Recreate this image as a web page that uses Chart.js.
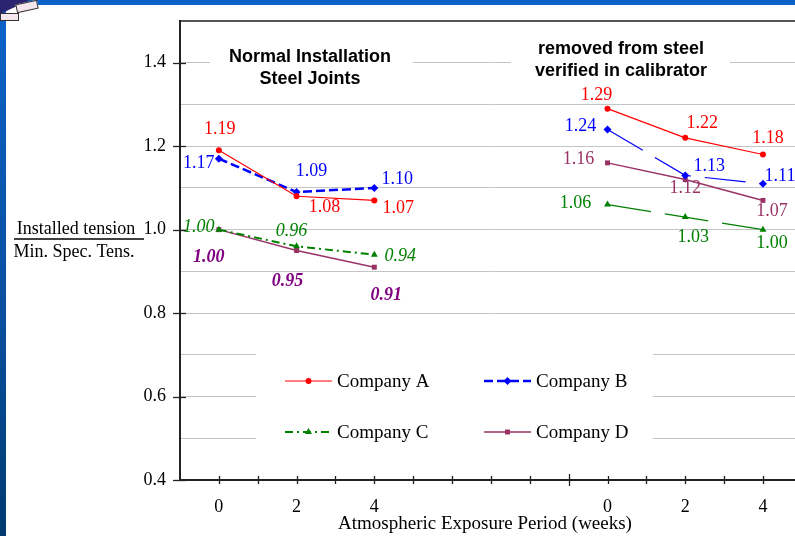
<!DOCTYPE html>
<html>
<head>
<meta charset="utf-8">
<script src="https://cdn.jsdelivr.net/npm/chart.js@4.4.1/dist/chart.umd.min.js"></script>
<style>
  body { margin: 0; background: #fff; }
  #wrap { position: relative; width: 795px; height: 536px; overflow: hidden; }
  canvas { position: absolute; left: 0; top: 0; }
  .bar-left { position: absolute; left: 0; top: 0; width: 6px; height: 536px;
    background: linear-gradient(#0b63c9, #0a4f9e 60%, #003a70); }
  .bar-top { position: absolute; left: 0; top: 0; width: 795px; height: 5px; background: #0b63c9; }
  .logo { position: absolute; left: 0; top: 0; width: 30px; height: 14px; background: #2b2470;
    clip-path: polygon(0 0, 100% 0, 0 100%); }
  .logo2 { position: absolute; left: 16px; top: 2px; width: 20px; height: 7px; background: #f4e8ee;
    border: 1px solid #333; transform: rotate(-12deg); }
  .logo3 { position: absolute; left: 0; top: 13px; width: 17px; height: 6px; background: #f4e8ee;
    border: 1px solid #333; }
</style>
</head>
<body>
<div id="wrap">
  <canvas id="lineChart" width="800" height="536"></canvas>
  <div class="bar-top"></div>
  <div class="bar-left"></div>
  <div class="logo"></div>
  <div class="logo2"></div>
  <div class="logo3"></div>
</div>
<script>
// weeks on the axis: the two test groups sit side by side
const weekLabels = ["0", "2", "4"];
const xNormal = [0, 2, 4];
const xCalibrator = [10, 12, 14];

// installed tension / min. spec. tension
const companyA = [1.19, 1.08, 1.07, 1.29, 1.22, 1.18];
const companyB = [1.17, 1.09, 1.10, 1.24, 1.13, 1.11];
const companyC = [1.00, 0.96, 0.94, 1.06, 1.03, 1.00];
const companyD = [1.00, 0.95, 0.91, 1.16, 1.12, 1.07];

// where each value label sits relative to its point (px)
const shiftA = [[1, -21], [28, 11], [24, 8], [-11, -13], [17, -15], [5, -16]];
const shiftB = [[-20, 5], [15, -21], [23, -9], [-27, -3], [24, -9], [17, -7]];
const shiftC = [[-20, -2], [-5, -15], [26, 2], [-32, -1], [8, 20], [9, 14]];
const shiftD = [[-10, 28], [-9, 31], [12, 28], [-29, -4], [0, 9], [9, 11]];

const SERIF = "'Liberation Serif', 'Times New Roman', serif";
const SANS = "'Liberation Sans', Arial, sans-serif";

function toPoints(values) {
  const pts = [];
  xNormal.forEach((x, i) => pts.push({ x: x, y: values[i] }));
  pts.push({ x: 7, y: null });
  xCalibrator.forEach((x, i) => pts.push({ x: x, y: values[i + 3] }));
  return pts;
}

function tickText(v) {
  let i = xNormal.indexOf(v);
  if (i >= 0) return weekLabels[i];
  i = xCalibrator.indexOf(v);
  if (i >= 0) return weekLabels[i];
  return "";
}

const series = [
  { label: "Company A", values: companyA, color: "#ff0000", style: "circle", radius: 3,
    width: [1.2, 1.2], dash: [[], []], shift: shiftA,
    labelFont: ["", ""], labelColor: ["#ff0000", "#ff0000"] },
  { label: "Company B", values: companyB, color: "#0000ff", style: "rectRot", radius: 4,
    width: [2.5, 1.2], dash: [[9, 4], [41, 14]], shift: shiftB,
    labelFont: ["", ""], labelColor: ["#0000ff", "#0000ff"] },
  { label: "Company C", values: companyC, color: "#008000", style: "triangle", radius: 4,
    width: [2, 1.2], dash: [[8, 4, 2, 4], [44, 14]], shift: shiftC,
    labelFont: ["italic ", ""], labelColor: ["#008000", "#008000"] },
  { label: "Company D", values: companyD, color: "#993366", style: "rect", radius: 3.5,
    width: [1.5, 1.5], dash: [[], []], shift: shiftD,
    labelFont: ["italic bold ", ""], labelColor: ["#800080", "#993366"] }
];

const datasets = series.map(s => ({
  label: s.label,
  data: toPoints(s.values),
  borderColor: s.color,
  backgroundColor: s.color,
  borderWidth: s.width[0],
  pointStyle: s.style,
  pointRadius: s.radius,
  pointBorderWidth: 0,
  pointBackgroundColor: s.color,
  spanGaps: false,
  segment: {
    borderDash: ctx => ctx.p0.parsed.x > 6 ? s.dash[1] : s.dash[0],
    borderWidth: ctx => ctx.p0.parsed.x > 6 ? s.width[1] : s.width[0]
  }
}));

const decorPlugin = {
  id: "decor",
  beforeDatasetsDraw(chart) {
    const ctx = chart.ctx;
    ctx.save();
    // white panels behind the titles and the legend
    ctx.fillStyle = "#fff";
    ctx.fillRect(210, 38, 203, 56);
    ctx.fillRect(511, 30, 219, 55);
    ctx.fillRect(256, 340, 397, 112);

    ctx.fillStyle = "#000";
    ctx.textAlign = "center";
    ctx.textBaseline = "middle";
    ctx.font = "bold 18px " + SANS;
    ctx.fillText("Normal Installation", 310, 57);
    ctx.fillText("Steel Joints", 310, 79);
    ctx.fillText("removed from steel", 621, 49);
    ctx.fillText("verified in calibrator", 621, 71);

    // legend, 2 x 2
    const cells = [[285, 381], [484, 381], [285, 432], [484, 432]];
    series.forEach((s, i) => {
      const [lx, ly] = cells[i];
      ctx.strokeStyle = s.color;
      ctx.fillStyle = s.color;
      ctx.lineWidth = s.width[0];
      ctx.setLineDash(s.dash[0]);
      ctx.beginPath();
      ctx.moveTo(lx, ly);
      ctx.lineTo(lx + 47, ly);
      ctx.stroke();
      ctx.setLineDash([]);
      Chart.helpers.drawPoint(ctx, { pointStyle: s.style, radius: s.radius, rotation: 0, borderWidth: 0 }, lx + 23.5, ly);
      ctx.fillStyle = "#000";
      ctx.textAlign = "left";
      ctx.font = "19px " + SERIF;
      ctx.fillText(s.label, lx + 52, ly + 1);
    });
    ctx.restore();
  },
  afterDatasetsDraw(chart) {
    const ctx = chart.ctx;
    const xs = chart.scales.x, ys = chart.scales.y;
    ctx.save();
    ctx.textAlign = "center";
    ctx.textBaseline = "middle";
    // value labels
    series.forEach((s, di) => {
      const meta = chart.getDatasetMeta(di);
      meta.data.forEach((pt, j) => {
        const raw = chart.data.datasets[di].data[j];
        if (raw.y === null) return;
        const k = j < 3 ? j : j - 1;
        const g = j < 3 ? 0 : 1;
        ctx.font = s.labelFont[g] + "18px " + SERIF;
        ctx.fillStyle = s.labelColor[g];
        ctx.fillText(raw.y.toFixed(2), pt.x + s.shift[k][0], pt.y + s.shift[k][1]);
      });
    });

    // tick marks crossing the axes
    ctx.strokeStyle = "#222";
    ctx.lineWidth = 1.3;
    ys.ticks.forEach(t => {
      if (Math.round(t.value * 10) % 2 !== 0 || t.value > 1.45) return;
      const y = Math.round(ys.getPixelForValue(t.value)) + 0.5;
      ctx.beginPath();
      ctx.moveTo(xs.left - 7, y);
      ctx.lineTo(xs.left + 6, y);
      ctx.stroke();
    });
    xs.ticks.forEach(t => {
      if (t.value < 0) return;
      const x = Math.round(xs.getPixelForValue(t.value)) + 0.5;
      const len = t.value === 9 ? 6 : 4;
      ctx.beginPath();
      ctx.moveTo(x, ys.bottom - len);
      ctx.lineTo(x, ys.bottom + len);
      ctx.stroke();
    });

    // y axis title as a fraction
    ctx.fillStyle = "#000";
    ctx.font = "18px " + SERIF;
    ctx.fillText("Installed tension", 76, 229);
    ctx.fillText("Min. Spec. Tens.", 74, 252);
    ctx.strokeStyle = "#000";
    ctx.lineWidth = 1.5;
    ctx.beginPath();
    ctx.moveTo(14, 239);
    ctx.lineTo(144, 239);
    ctx.stroke();

    // x axis title
    ctx.font = "19px " + SERIF;
    ctx.fillText("Atmospheric Exposure Period (weeks)", 485, 524);
    ctx.restore();
  }
};

new Chart(document.getElementById("lineChart"), {
  type: "line",
  data: { datasets: datasets },
  options: {
    responsive: false,
    animation: false,
    layout: { padding: { top: 21, right: 0, bottom: 0, left: 0 } },
    plugins: { legend: { display: false }, tooltip: { enabled: false } },
    scales: {
      x: {
        type: "linear",
        min: -1,
        max: 14.85,
        afterFit: scale => {
          scale.height = 56;
          scale.paddingLeft = 0;
          scale.paddingRight = 0;
        },
        grid: { drawOnChartArea: false, drawTicks: false },
        border: { color: "#222", width: 2 },
        ticks: {
          stepSize: 1,
          autoSkip: false,
          includeBounds: false,
          maxRotation: 0,
          padding: 16,
          color: "#000",
          font: { family: SERIF, size: 18 },
          callback: v => tickText(v)
        }
      },
      y: {
        min: 0.4,
        max: 1.5,
        afterFit: scale => {
          scale.width = 180;
          scale.paddingTop = 0;
          scale.paddingBottom = 0;
        },
        grid: {
          drawTicks: false,
          color: ctx => ctx.tick && ctx.tick.value > 1.45 ? "#555" : "#c4c4c4",
          lineWidth: ctx => ctx.tick && ctx.tick.value > 1.45 ? 2 : 1
        },
        border: { color: "#222", width: 2 },
        ticks: {
          stepSize: 0.1,
          autoSkip: false,
          padding: 14,
          color: "#000",
          font: { family: SERIF, size: 18 },
          callback: v => (Math.round(v * 10) % 2 === 0 && v < 1.45) ? v.toFixed(1) : ""
        }
      }
    }
  },
  plugins: [decorPlugin]
});
</script>
</body>
</html>
